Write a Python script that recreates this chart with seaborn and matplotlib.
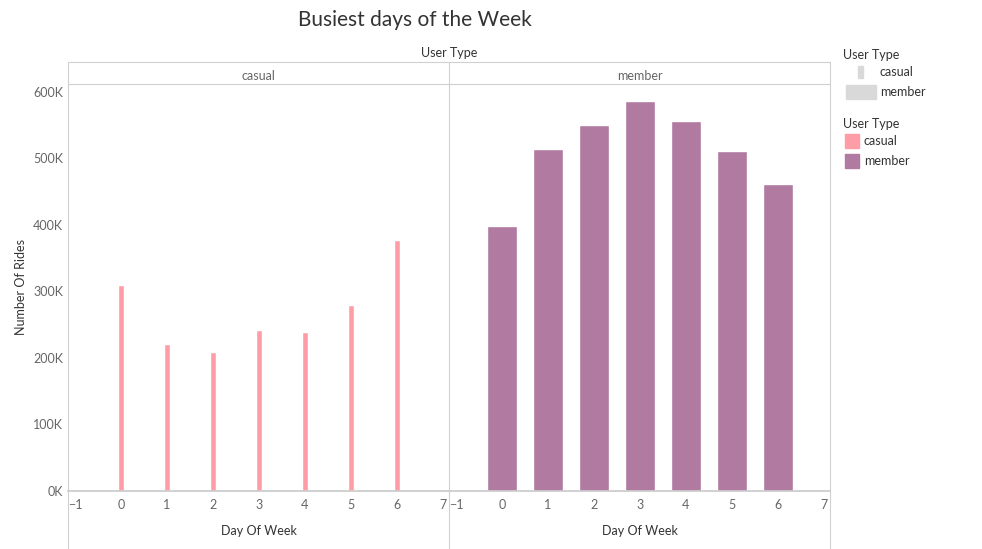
import matplotlib.pyplot as plt
import matplotlib.patches as mpatches
import seaborn as sns
from matplotlib.ticker import FuncFormatter

sns.set_theme(style="white")
plt.rcParams['font.family'] = ['Lato', 'DejaVu Sans']

days = [0, 1, 2, 3, 4, 5, 6]
casual_rides = [310000, 221000, 209000, 242000, 239000, 279000, 377000]
member_rides = [398000, 514000, 551000, 587000, 556000, 512000, 461000]
user_types = ["casual", "member"]
colors = {"casual": "#ff9da7", "member": "#b07aa1"}

W, H = 982, 549
fig = plt.figure(figsize=(W / 100, H / 100), dpi=100)

def box(x0, y0, x1, y1):
    return [x0 / W, 1 - y1 / H, (x1 - x0) / W, (y1 - y0) / H]

ax1 = fig.add_axes(box(68, 84, 449, 491))
ax2 = fig.add_axes(box(449, 84, 830, 491), sharey=ax1)

grey = "#666666"
for ax, ut, vals, width in [(ax1, "casual", casual_rides, 0.12), (ax2, "member", member_rides, 0.64)]:
    sns.barplot(x=days, y=vals, native_scale=True, width=width, color=colors[ut],
                saturation=1, ax=ax)
    ax.set_xlim(-1.15, 7.13)
    ax.set_ylim(0, 612000)
    ax.set_xticks(range(-1, 8))
    ax.tick_params(axis="x", colors=grey, labelsize=9, length=0, pad=6)
    ax.tick_params(axis="y", colors=grey, labelsize=9, length=0)
    for s in ["top", "right", "left"]:
        ax.spines[s].set_visible(False)
    ax.spines["bottom"].set_color("#cccccc")
    ax.set_xlabel("Day Of Week", fontsize=9, color="#333333", labelpad=10)
    ax.set_ylabel("")
    ax.text(0.5, 1.005, ut, transform=ax.transAxes, ha="center", va="bottom", fontsize=9, color=grey)

ax1.yaxis.set_major_formatter(FuncFormatter(lambda v, p: f"{int(v / 1000)}K"))
ax1.set_yticks(range(0, 600001, 100000))
ax1.set_ylabel("Number Of Rides", fontsize=9, color="#333333")
ax2.tick_params(axis="y", labelleft=False)

# panel separators and header lines
for x in [68, 449, 830]:
    fig.add_artist(plt.Line2D([x / W] * 2, [1 - 62 / H, 1 - 549 / H], color="#d0d0d0", lw=0.8))
for y in [62, 84]:
    fig.add_artist(plt.Line2D([68 / W, 830 / W], [1 - y / H] * 2, color="#d0d0d0", lw=0.8))

fig.text(415 / W, 1 - 20 / H, "Busiest days of the Week", ha="center", va="center", fontsize=15, color="#333333")
fig.text(449 / W, 1 - 53 / H, "User Type", ha="center", va="center", fontsize=9, color="#333333")

# legends
fig.text(843 / W, 1 - 55 / H, "User Type", va="center", fontsize=9, color="#333333")
fig.add_artist(mpatches.Rectangle((858 / W, 1 - 78 / H), 5 / W, 12 / H, color="#d9d9d9"))
fig.text(880 / W, 1 - 72 / H, "casual", va="center", fontsize=9, color="#333333")
fig.add_artist(mpatches.Rectangle((846 / W, 1 - 99 / H), 30 / W, 14 / H, color="#d9d9d9"))
fig.text(880 / W, 1 - 92 / H, "member", va="center", fontsize=9, color="#333333")
fig.text(843 / W, 1 - 124 / H, "User Type", va="center", fontsize=9, color="#333333")
for i, ut in enumerate(user_types):
    y = 141 + 20 * i
    fig.add_artist(mpatches.Rectangle((845 / W, 1 - (y + 7) / H), 14 / W, 14 / H, color=colors[ut]))
    fig.text(864 / W, 1 - y / H, ut, va="center", fontsize=9, color="#333333")

fig.savefig("out.png", dpi=100)
